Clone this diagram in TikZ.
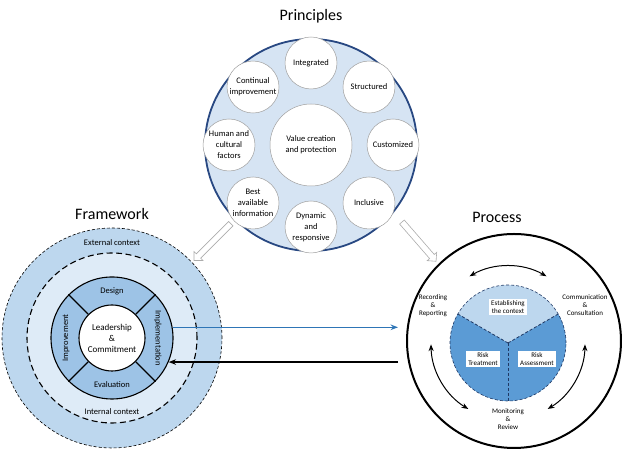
\documentclass[tikz,border=0pt]{standalone}
\usepackage{fontspec}
\setmainfont{Carlito}
\usepackage{tikz}
\usetikzlibrary{arrows.meta,positioning,calc,shapes.arrows}
\definecolor{PrBg}{RGB}{214,228,243}
\definecolor{PrLine}{RGB}{40,72,130}
\definecolor{FwOut}{RGB}{189,215,238}
\definecolor{FwIn}{RGB}{222,235,247}
\definecolor{FwRing}{RGB}{157,195,230}
\definecolor{PcTop}{RGB}{189,215,238}
\definecolor{PcLow}{RGB}{91,155,213}
\definecolor{PcLine}{RGB}{31,56,100}
\definecolor{LinkBlue}{RGB}{46,117,182}
\tikzset{
  headtxt/.style={font=\fontsize{16}{19}\selectfont,inner sep=1.5pt},
  prin/.style={circle,draw=gray!75,fill=white,line width=0.5pt,minimum size=52pt,
               inner sep=0pt,align=center,font=\fontsize{8.5}{11}\selectfont},
  band/.style={circle,inner sep=0pt,draw=black},
  fwtxt/.style={font=\fontsize{8.5}{10.5}\selectfont,inner sep=1pt},
  pctxt/.style={font=\fontsize{7}{8}\selectfont,align=center,inner sep=1pt},
  pcbox/.style={pctxt,fill=white,inner sep=1.8pt},
  pcdiv/.style={PcLine,line width=0.8pt,densely dashed},
  hollow/.style={single arrow,draw=gray!65,fill=white,line width=0.6pt,
                 minimum height=52pt,inner sep=2.8pt,single arrow head extend=3.2pt},
  cyc/.style={{Stealth[length=2.4mm]}-{Stealth[length=2.4mm]},line width=1pt},
  implink/.style={-{Stealth[length=2.6mm]},line width=1.3pt,LinkBlue},
  backlink/.style={-{Stealth[length=2.6mm]},line width=1.4pt,black},
}

\begin{document}
\begin{tikzpicture}[x=1pt,y=1pt]
  \useasboundingbox (0,0) rectangle (622,454);

  % principles
  \node[circle,minimum size=212pt,fill=PrBg,draw=PrLine,line width=1.8pt] (prbig) at (311,309) {};
  \node[headtxt,above=13pt of prbig] (prtitle) {Principles};
  \node[prin,minimum size=82pt] (value) at (prbig.center) {Value creation\\and protection};
  \node[prin] (integ) at ([shift={(90:82pt)}]prbig.center) {Integrated};
  \node[prin] (struct) at ([shift={(45:82pt)}]prbig.center) {Structured};
  \node[prin] (custom) at ([shift={(0:82pt)}]prbig.center) {Customized};
  \node[prin] (incl) at ([shift={(-45:82pt)}]prbig.center) {Inclusive};
  \node[prin] (dyn) at ([shift={(-90:82pt)}]prbig.center) {Dynamic\\and\\responsive};
  \node[prin] (best) at ([shift={(-135:82pt)}]prbig.center) {Best\\available\\information};
  \node[prin] (human) at ([shift={(180:82pt)}]prbig.center) {Human and\\cultural\\factors};
  \node[prin] (contin) at ([shift={(135:82pt)}]prbig.center) {Continual\\improvement};

  \node[hollow,rotate=225] (tofw) at (213.5,213) {};
  \node[hollow,rotate=-49] (topc) at (418,213.5) {};

  % framework
  \node[band,minimum size=220pt,fill=FwOut,densely dashed,line width=0.6pt] (fwout) at (112,116) {};
  \node[band,minimum size=170pt,fill=FwIn,dash pattern=on 6pt off 3.5pt,line width=1.1pt] (fwmid) at (fwout.center) {};
  \node[band,minimum size=122pt,fill=FwRing,line width=1.1pt] (fwring) at (fwout.center) {};
  \node[band,minimum size=66pt,fill=white,line width=1.1pt,align=center,
        font=\fontsize{9}{11}\selectfont] (fwcore) at (fwout.center) {Leadership\\\&\\Commitment};
  \foreach \a in {45,135,225,315}
    \draw[line width=1.1pt] (fwcore.\a) -- (fwring.\a);
  \node[headtxt,above=6pt of fwout] (fwtitle) {Framework};
  \node[fwtxt] (extctx) at ([yshift=95pt]fwout.center) {External context};
  \node[fwtxt] (intctx) at ([yshift=-74pt]fwout.center) {Internal context};
  \node[fwtxt] (design) at ([yshift=47pt]fwout.center) {Design};
  \node[fwtxt] (evalu) at ([yshift=-47pt]fwout.center) {Evaluation};
  \node[fwtxt,rotate=90] (improv) at ([xshift=-46pt]fwout.center) {Improvement};
  \node[fwtxt,rotate=-90] (implem) at ([xshift=46pt]fwout.center) {Implementation};

  % process
  \node[band,minimum size=214pt,line width=2pt] (pcout) at (514,113) {};
  \node[headtxt,above=9pt of pcout,xshift=-17pt] (pctitle) {Process};
  \coordinate (pc) at (508,111);
  \fill[PcTop] (pc) -- ++(30:58pt) arc[start angle=30,end angle=150,radius=58pt] -- cycle;
  \fill[PcLow] (pc) -- ++(150:58pt) arc[start angle=150,end angle=270,radius=58pt] -- cycle;
  \fill[PcLow] (pc) -- ++(270:58pt) arc[start angle=270,end angle=390,radius=58pt] -- cycle;
  \node[circle,inner sep=0pt,minimum size=116pt,draw=PcLine,densely dashed,line width=0.6pt] (pie) at (pc) {};
  \draw[pcdiv] (pie.center) -- (pie.30);
  \draw[pcdiv] (pie.center) -- (pie.150);
  \draw[pcdiv] (pie.center) -- (pie.270);
  \node[pcbox] (estab) at ([yshift=36pt]pie.center) {Establishing\\the context};
  \node[pcbox] (treat) at ([shift={(-25pt,-16pt)}]pie.center) {Risk\\Treatment};
  \node[pcbox] (assess) at ([shift={(29pt,-16pt)}]pie.center) {Risk\\Assessment};
  \node[pctxt] (recrep) at (433,148) {Recording\\\&\\Reporting};
  \node[pctxt] (commcons) at (585,149) {Communication\\\&\\Consultation};
  \node[pctxt] (monrev) at (508,35) {Monitoring\\\&\\Review};
  \draw[cyc] ([shift={(120:77pt)}]pie.center) arc[start angle=120,end angle=60,radius=77pt];
  \draw[cyc] ([shift={(181:77pt)}]pie.center) arc[start angle=181,end angle=239,radius=77pt];
  \draw[cyc] ([shift={(-1:77pt)}]pie.center) arc[start angle=-1,end angle=-59,radius=77pt];

  % links
  \draw[implink,shorten >=8pt] (fwring.10) -- (fwring.10 -| pcout.west);
  \draw[backlink,shorten <=8pt] (pcout.west |- fwring.-23) -- (fwring.-23);
\end{tikzpicture}
\end{document}
